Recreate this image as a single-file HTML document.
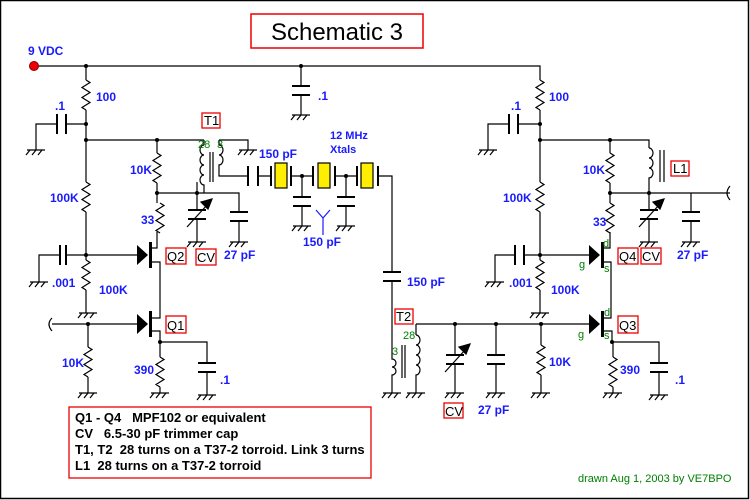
<!DOCTYPE html>
<html><head><meta charset="utf-8"><style>
html,body{margin:0;padding:0;background:#fff}
svg{display:block}
text{white-space:pre}
.b{fill:#1a1aff;font:bold 12px "Liberation Sans",sans-serif}
.g{fill:#008000;font:11px "Liberation Sans",sans-serif}
.k{fill:#000;font:13px "Liberation Sans",sans-serif}
.n{fill:#000;font:bold 13px "Liberation Sans",sans-serif}
</style></head><body>
<svg width="750" height="500" viewBox="0 0 750 500" xmlns="http://www.w3.org/2000/svg" xml:space="preserve">
<defs>
<g id="gnd" stroke="#000" stroke-width="1.2" fill="none"><path d="M-9 0H9M-6 0l-4 5M0 0l-4 5M6 0l-4 5"/></g>
<g id="res" stroke="#000" stroke-width="1.2" fill="none"><path d="M0 0l4 2.5l-8 5l8 5l-8 5l8 5l-8 5l4 2.5"/></g>
<g id="capv" stroke="#000" stroke-width="2"><path d="M-9 0H9M-9 9H9"/></g>
<g id="trim" stroke="#000" stroke-width="1.2"><path d="M-9 0H9M-9 9H9" stroke-width="2"/><path d="M-10 17L10 -5"/><polygon points="15,-11 4,-8 11,-1" fill="#000"/></g>
<g id="fet"><polygon points="0,-10 11,0 0,10" fill="#000"/><rect x="12" y="-13" width="3" height="26" fill="#000"/></g>
</defs>
<rect x="0.5" y="0.5" width="748" height="498" fill="#fff" stroke="#000" stroke-width="1.5"/>
<rect x="251" y="14" width="172" height="34" fill="none" stroke="#e00" stroke-width="1.5"/>
<text x="337" y="40" text-anchor="middle" style="font:24px 'Liberation Sans',sans-serif">Schematic 3</text>

<g stroke="#000" stroke-width="1.2" fill="none">
<path d="M34 66H540V80M86 66V80M86 110V140M86 140V182M86 212V260M86 290V313M301 66V86M301 95V115"/>
<path d="M540 110V140V182M540 212V260M540 290V313"/>
<path d="M86 124H66M57 124H36V150"/>
<path d="M86 140H196M157 140V153M157 183V203M157 232V248H151M151 262H160V318H151M151 331H160V342M160 342V357M160 387V393M160 342H207V363M207 372V395"/>
<path d="M157 193H239V212M239 221V242M197 182V210M197 219V242"/>
<path d="M86 255H66M60 255H39V282M86 255H137"/>
<path d="M52 324H137M88 324V347M88 377V393"/>
<path d="M52 318Q46 324 52 331"/>
<path d="M196 140H204M204 140V145"/>
<path d="M204 145a4 5 0 0 0 0 10a4 5 0 0 0 0 10a4 5 0 0 0 0 10a4 5 0 0 0 0 10V193"/>
<path d="M210 152V182M213 152V182"/>
<path d="M219 140H248V150M219 140V145a4 5 0 0 1 0 10a4 5 0 0 1 0 10V176H248"/>
<path d="M258 176H270M291 176H313M335 176H357M378 176H392V272M392 281V345"/>
<path d="M302 176V197M302 206V226M346 176V197M346 206V226"/>
<path d="M540 124H518M509 124H488V150M540 140H649V148M610 140V153M610 183V203M610 232V248H603M603 262H611V318H603M603 331H612V342M613 342V357M613 387V393M612 342H659V363M659 372V395"/>
<path d="M649 148a4 5 0 0 1 0 10a4 5 0 0 1 0 10a4 5 0 0 1 0 10V193"/>
<path d="M660 150V182M664 150V182"/>
<path d="M610 193H730M649 193V210M649 219V242M691 193V212M691 221V242"/>
<path d="M730 186Q724 193 730 200"/>
<path d="M540 255H524M515 255H495V282M540 255H589"/>
<path d="M416 324H589M416 324V335M541 324V345M541 375V393M455 324V355M455 364V393M496 324V355M496 364V393"/>
<path d="M416 335a4 5 0 0 1 0 10a4 5 0 0 1 0 10a4 5 0 0 1 0 10a4 5 0 0 1 0 10V393"/>
<path d="M402 345V378M405 345V378"/>
<path d="M392 345V359a4 4 0 0 1 0 8a4 4 0 0 1 0 8V393"/>
</g>
<g stroke="#000" stroke-width="2">
<path d="M57 114V134M66 114V134M60 245V265M66 245V265M509 114V134M518 114V134M515 245V265M524 245V265"/>
<path d="M248 166V186M258 166V186M271 166V186M291 166V186M313 166V186M335 166V186M357 166V186M378 166V186"/>
</g>
<g fill="#ffee00" stroke="#000" stroke-width="1.2">
<rect x="275" y="163" width="12" height="25"/><rect x="318" y="163" width="12" height="25"/><rect x="361" y="163" width="12" height="25"/>
</g>
<use href="#res" x="86" y="80"/><use href="#res" x="86" y="182"/><use href="#res" x="86" y="260"/>
<use href="#res" x="88" y="347"/><use href="#res" x="157" y="153"/><use href="#res" x="160" y="203"/>
<use href="#res" x="160" y="357"/><use href="#res" x="540" y="80"/><use href="#res" x="540" y="182"/>
<use href="#res" x="540" y="260"/><use href="#res" x="610" y="153"/><use href="#res" x="610" y="203"/>
<use href="#res" x="541" y="345"/><use href="#res" x="613" y="357"/>
<use href="#capv" x="301" y="86"/><use href="#capv" x="239" y="212"/><use href="#capv" x="207" y="363"/>
<use href="#capv" x="302" y="197"/><use href="#capv" x="346" y="197"/><use href="#capv" x="392" y="272"/>
<use href="#capv" x="691" y="212"/><use href="#capv" x="496" y="355"/><use href="#capv" x="659" y="363"/>
<use href="#trim" x="197" y="210"/><use href="#trim" x="649" y="210"/><use href="#trim" x="455" y="355"/>
<use href="#gnd" x="36" y="150"/><use href="#gnd" x="301" y="115"/><use href="#gnd" x="39" y="282"/>
<use href="#gnd" x="88" y="313"/><use href="#gnd" x="88" y="393"/><use href="#gnd" x="160" y="393"/>
<use href="#gnd" x="207" y="395"/><use href="#gnd" x="248" y="150"/><use href="#gnd" x="197" y="242"/>
<use href="#gnd" x="239" y="242"/><use href="#gnd" x="302" y="226"/><use href="#gnd" x="346" y="226"/>
<use href="#gnd" x="488" y="150"/><use href="#gnd" x="495" y="282"/><use href="#gnd" x="540" y="313"/>
<use href="#gnd" x="649" y="242"/><use href="#gnd" x="691" y="242"/><use href="#gnd" x="392" y="393"/>
<use href="#gnd" x="416" y="393"/><use href="#gnd" x="455" y="393"/><use href="#gnd" x="496" y="393"/>
<use href="#gnd" x="541" y="393"/><use href="#gnd" x="613" y="393"/><use href="#gnd" x="659" y="395"/>
<use href="#fet" x="137" y="255"/><use href="#fet" x="137" y="324"/><use href="#fet" x="589" y="255"/><use href="#fet" x="589" y="324"/>
<g fill="#000"><circle cx="86" cy="66" r="2"/><circle cx="301" cy="66" r="2"/><circle cx="86" cy="124" r="2"/><circle cx="86" cy="140" r="2"/><circle cx="157" cy="140" r="2"/><circle cx="157" cy="193" r="2"/><circle cx="197" cy="193" r="2"/><circle cx="86" cy="255" r="2"/><circle cx="88" cy="324" r="2"/><circle cx="160" cy="342" r="2"/><circle cx="302" cy="176" r="2"/><circle cx="346" cy="176" r="2"/><circle cx="540" cy="124" r="2"/><circle cx="540" cy="140" r="2"/><circle cx="610" cy="140" r="2"/><circle cx="610" cy="193" r="2"/><circle cx="649" cy="193" r="2"/><circle cx="540" cy="255" r="2"/><circle cx="612" cy="342" r="2"/><circle cx="455" cy="324" r="2"/><circle cx="496" cy="324" r="2"/><circle cx="541" cy="324" r="2"/></g>
<circle cx="34" cy="66" r="4.5" fill="#e00" stroke="#800" stroke-width="1"/>
<path d="M316 210L323 218L330 210M323 218V235" stroke="#1a1aff" stroke-width="1.2" fill="none"/>
<text class="b" x="28" y="55">9 VDC</text>
<text class="b" x="96" y="101">100</text><text class="b" x="55" y="110">.1</text>
<text class="b" x="318" y="100">.1</text>
<text class="b" x="130" y="174">10K</text><text class="b" x="50" y="202">100K</text>
<text class="b" x="141" y="224">33</text><text class="b" x="52" y="287">.001</text>
<text class="b" x="99" y="294">100K</text><text class="b" x="62" y="367">10K</text>
<text class="b" x="134" y="374">390</text><text class="b" x="220" y="384">.1</text>
<text class="b" x="259" y="158">150 pF</text>
<text class="b" x="330" y="139" style="font-size:11px">12 MHz</text>
<text class="b" x="330" y="153" style="font-size:11px">Xtals</text>
<text class="b" x="303" y="246">150 pF</text>
<text class="b" x="224" y="259">27 pF</text>
<text class="b" x="407" y="286">150 pF</text>
<text class="b" x="549" y="101">100</text><text class="b" x="511" y="110">.1</text>
<text class="b" x="583" y="174">10K</text><text class="b" x="503" y="202">100K</text>
<text class="b" x="593" y="226">33</text><text class="b" x="509" y="287">.001</text>
<text class="b" x="551" y="294">100K</text><text class="b" x="677" y="259">27 pF</text>
<text class="b" x="549" y="366">10K</text><text class="b" x="620" y="374">390</text>
<text class="b" x="675" y="384">.1</text><text class="b" x="478" y="414">27 pF</text>
<text class="g" x="198" y="148" style="fill:#008000">28</text><text class="g" x="217" y="148">3</text>
<text class="g" x="403" y="339">28</text><text class="g" x="392" y="355">3</text>
<text class="g" x="603" y="247">d</text><text class="g" x="579" y="268">g</text><text class="g" x="604" y="272">s</text>
<text class="g" x="604" y="316">d</text><text class="g" x="578" y="338">g</text><text class="g" x="604" y="339">s</text>
<text class="g" x="578" y="482">drawn Aug 1, 2003 by VE7BPO</text>
<g fill="none" stroke="#e00" stroke-width="1.3">
<rect x="202" y="113" width="18" height="15"/><rect x="166" y="248" width="20" height="16"/><rect x="196" y="249" width="20" height="16"/>
<rect x="166" y="316" width="20" height="17"/><rect x="671" y="161" width="18" height="15"/><rect x="618" y="248" width="20" height="16"/>
<rect x="641" y="248" width="20" height="16"/><rect x="395" y="309" width="18" height="15"/><rect x="618" y="316" width="20" height="17"/>
<rect x="444" y="403" width="19" height="15"/>
<rect x="69" y="407" width="302" height="71"/>
</g>
<text class="k" x="204" y="125">T1</text><text class="k" x="167" y="261">Q2</text><text class="k" x="197" y="262">CV</text>
<text class="k" x="167" y="330">Q1</text><text class="k" x="673" y="173">L1</text><text class="k" x="619" y="261">Q4</text>
<text class="k" x="642" y="261">CV</text><text class="k" x="396" y="321">T2</text><text class="k" x="619" y="330">Q3</text>
<text class="k" x="445" y="416">CV</text>
<text class="n" x="75" y="422">Q1 - Q4   MPF102 or equivalent</text>
<text class="n" x="75" y="438">CV   6.5-30 pF trimmer cap</text>
<text class="n" x="75" y="454">T1, T2  28 turns on a T37-2 torroid. Link 3 turns</text>
<text class="n" x="75" y="470">L1  28 turns on a T37-2 torroid</text>
</svg>
</body></html>
